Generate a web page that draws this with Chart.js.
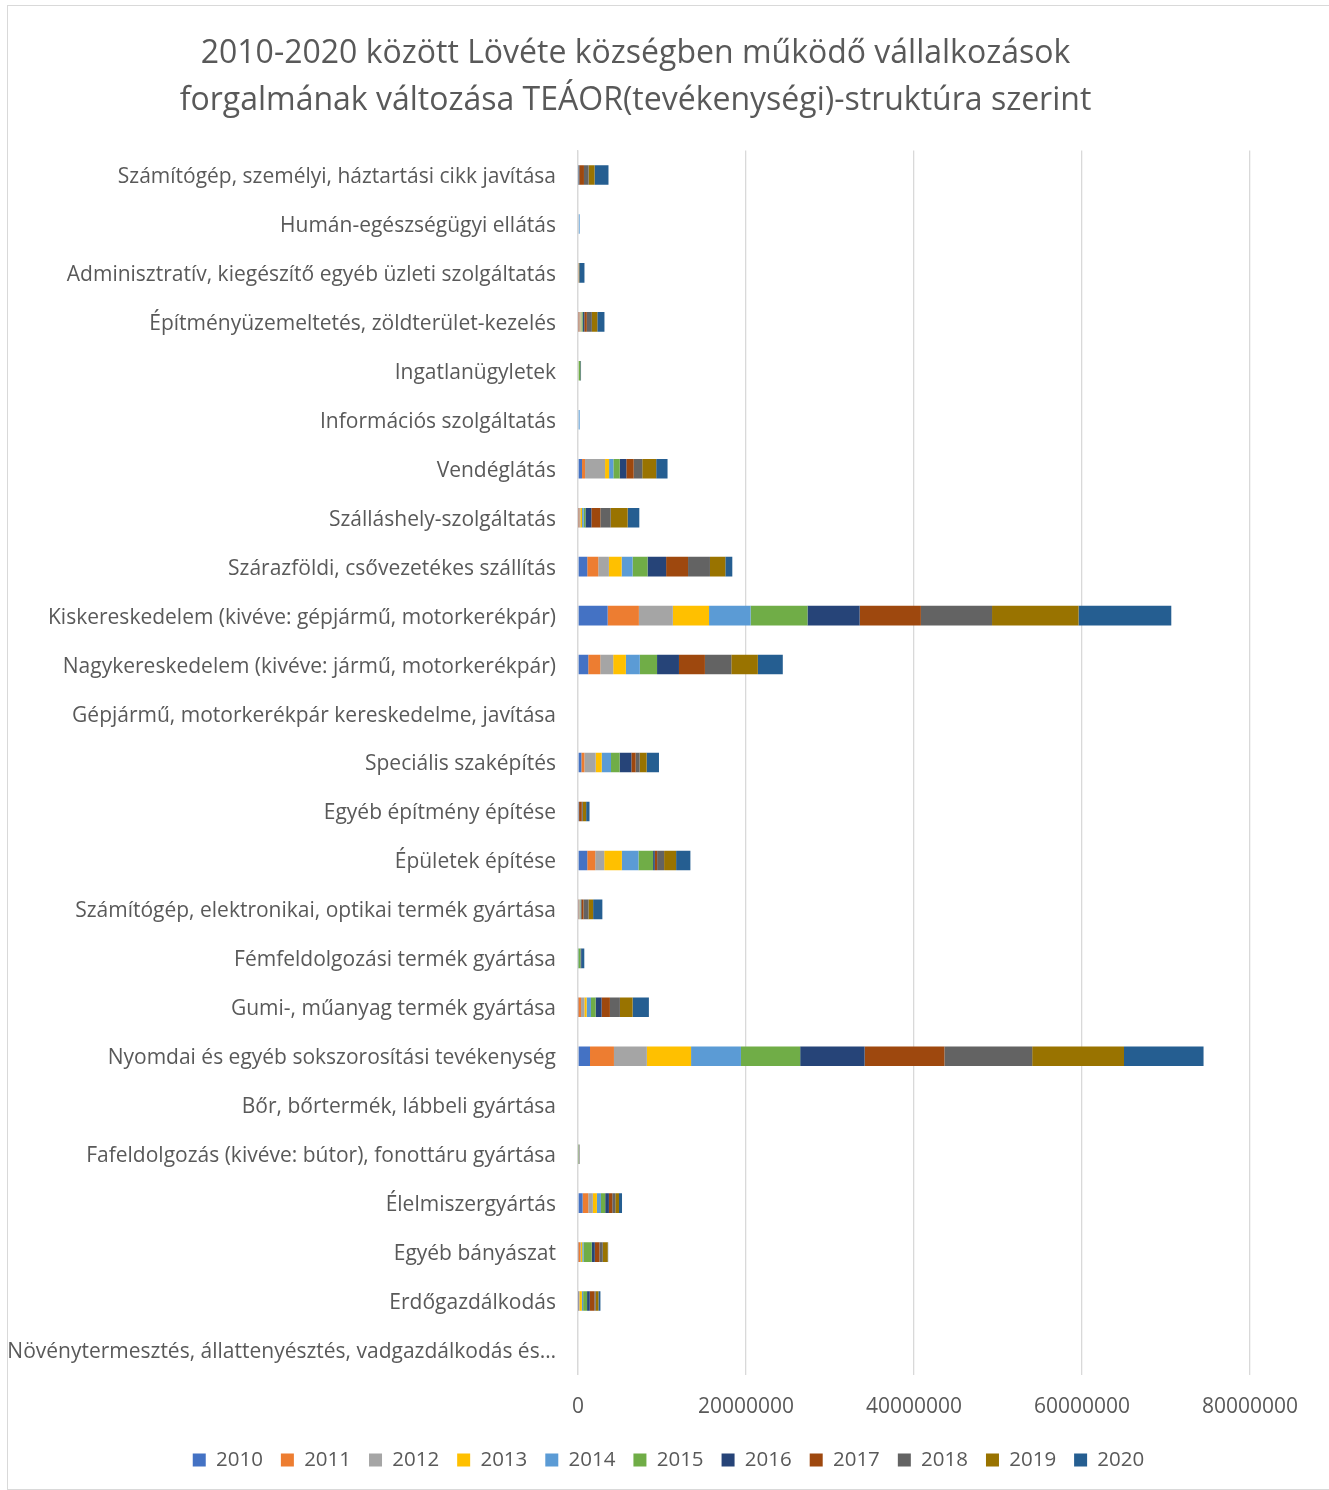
<!DOCTYPE html>
<html>
<head>
<meta charset="utf-8">
<script src="https://cdn.jsdelivr.net/npm/chart.js@4.4.1/dist/chart.umd.min.js"></script>
<style>
  body { margin: 0; background: #fff; }
  #wrap { position: absolute; left: 7px; top: 5px; width: 1321px; height: 1483px; border: 1px solid #d9d9d9; }
</style>
</head>
<body>
<div id="wrap"><canvas id="chart" width="1321" height="1483"></canvas></div>
<script>
// Kategóriák (fentről lefelé)
var categories = [
  'Számítógép, személyi, háztartási cikk javítása',
  'Humán-egészségügyi ellátás',
  'Adminisztratív, kiegészítő egyéb üzleti szolgáltatás',
  'Építményüzemeltetés, zöldterület-kezelés',
  'Ingatlanügyletek',
  'Információs szolgáltatás',
  'Vendéglátás',
  'Szálláshely-szolgáltatás',
  'Szárazföldi, csővezetékes szállítás',
  'Kiskereskedelem (kivéve: gépjármű, motorkerékpár)',
  'Nagykereskedelem (kivéve: jármű, motorkerékpár)',
  'Gépjármű, motorkerékpár kereskedelme, javítása',
  'Speciális szaképítés',
  'Egyéb építmény építése',
  'Épületek építése',
  'Számítógép, elektronikai, optikai termék gyártása',
  'Fémfeldolgozási termék gyártása',
  'Gumi-, műanyag termék gyártása',
  'Nyomdai és egyéb sokszorosítási tevékenység',
  'Bőr, bőrtermék, lábbeli gyártása',
  'Fafeldolgozás (kivéve: bútor), fonottáru gyártása',
  'Élelmiszergyártás',
  'Egyéb bányászat',
  'Erdőgazdálkodás',
  'Növénytermesztés, állattenyésztés, vadgazdálkodás és…'
];

var years = ['2010', '2011', '2012', '2013', '2014', '2015', '2016', '2017', '2018', '2019', '2020'];

// Forgalom évenként (becsült értékek a képről)
var y2010 = [20000, 0, 0, 50000, 0, 0, 480000, 50000, 1100000, 3530000, 1220000, 0, 400000, 0, 1100000, 50000, 0, 50000, 1430000, 0, 0, 550000, 50000, 30000, 0];
var y2011 = [20000, 0, 0, 100000, 0, 0, 360000, 100000, 1310000, 3720000, 1430000, 0, 360000, 0, 950000, 50000, 0, 310000, 2850000, 0, 0, 670000, 200000, 30000, 0];
var y2012 = [20000, 100000, 0, 150000, 80000, 80000, 2380000, 130000, 1270000, 4040000, 1540000, 0, 1350000, 80000, 1070000, 100000, 0, 400000, 3920000, 0, 50000, 550000, 100000, 100000, 0];
var y2013 = [20000, 0, 0, 100000, 0, 0, 480000, 200000, 1510000, 4310000, 1510000, 0, 710000, 0, 2100000, 50000, 0, 270000, 5260000, 0, 0, 480000, 150000, 300000, 0];
var y2014 = [20000, 100000, 0, 100000, 0, 120000, 510000, 200000, 1310000, 4950000, 1660000, 0, 1110000, 0, 1980000, 50000, 50000, 510000, 5940000, 0, 0, 480000, 150000, 150000, 0];
var y2015 = [20000, 0, 0, 100000, 200000, 0, 760000, 200000, 1780000, 6770000, 2050000, 0, 1030000, 0, 1740000, 50000, 250000, 560000, 7050000, 0, 50000, 510000, 990000, 470000, 0];
var y2016 = [30000, 0, 0, 150000, 80000, 0, 780000, 710000, 2210000, 6210000, 2610000, 0, 1390000, 50000, 200000, 50000, 150000, 710000, 7670000, 0, 0, 440000, 360000, 320000, 0];
var y2017 = [560000, 0, 100000, 300000, 0, 0, 880000, 1070000, 2610000, 7290000, 3090000, 0, 510000, 320000, 280000, 250000, 0, 990000, 9500000, 0, 0, 400000, 550000, 550000, 0];
var y2018 = [550000, 0, 0, 600000, 0, 0, 1020000, 1230000, 2610000, 8470000, 3140000, 0, 480000, 120000, 830000, 600000, 0, 1190000, 10450000, 0, 80000, 360000, 400000, 160000, 0];
var y2019 = [710000, 0, 50000, 650000, 0, 0, 1660000, 2020000, 1830000, 10300000, 3160000, 0, 830000, 400000, 1430000, 550000, 0, 1510000, 10930000, 0, 0, 440000, 590000, 320000, 0];
var y2020 = [1660000, 0, 620000, 850000, 0, 0, 1350000, 1390000, 830000, 11040000, 2970000, 0, 1470000, 400000, 1700000, 1100000, 300000, 1940000, 9470000, 0, 0, 360000, 50000, 240000, 0];

var series = [y2010, y2011, y2012, y2013, y2014, y2015, y2016, y2017, y2018, y2019, y2020];
var colors = ['#4472C4', '#ED7D31', '#A5A5A5', '#FFC000', '#5B9BD5', '#70AD47', '#264478', '#9E480E', '#636363', '#997300', '#255E91'];

var xMax = 80000000;
var xStep = 20000000;

var datasets = years.map(function(y, i) {
  return {
    label: y,
    data: series[i],
    backgroundColor: colors[i],
    borderWidth: 0,
    categoryPercentage: 0.4,
    barPercentage: 1
  };
});

var textColor = '#595959';
var gridColor = '#d9d9d9';

// cím eltolása balra, mint az eredetin
var shiftTitle = {
  id: 'shiftTitle',
  afterLayout: function(chart) {
    var t = chart.titleBlock;
    if (t) { t.left -= 33; t.right -= 33; }
  }
};

new Chart(document.getElementById('chart'), {
  type: 'bar',
  data: { labels: categories, datasets: datasets },
  plugins: [shiftTitle],
  options: {
    indexAxis: 'y',
    responsive: false,
    animation: false,
    layout: { padding: { left: 0, right: 0, top: 0, bottom: 8.75 } },
    scales: {
      x: {
        stacked: true,
        min: 0,
        max: xMax,
        ticks: {
          stepSize: xStep,
          color: textColor,
          font: { family: 'Open Sans', size: 21 },
          padding: 20,
          callback: function(v) { return String(v); }
        },
        grid: { color: gridColor, lineWidth: 1.3, drawTicks: false },
        border: { display: false },
        afterFit: function(s) { s.height = 57.25; }
      },
      y: {
        stacked: true,
        ticks: {
          autoSkip: false,
          color: textColor,
          font: { family: 'Open Sans', size: 21 },
          padding: 22,
          labelOffset: 2
        },
        grid: { display: false, drawTicks: false },
        border: { display: true, color: gridColor, width: 1.3 },
        afterFit: function(s) { s.width = 570; }
      },
      yRight: {
        type: 'category',
        position: 'right',
        display: true,
        ticks: { display: false },
        grid: { display: false, drawTicks: false },
        border: { display: false },
        afterFit: function(s) { s.width = 79; }
      }
    },
    plugins: {
      title: {
        display: true,
        text: ['2010-2020 között Lövéte községben működő vállalkozások', 'forgalmának változása TEÁOR(tevékenységi)-struktúra szerint'],
        color: textColor,
        font: { family: 'Open Sans', size: 32, weight: 'normal', lineHeight: '47px' },
        padding: { top: 24.5, bottom: 26 }
      },
      legend: {
        position: 'bottom',
        labels: {
          color: textColor,
          font: { family: 'Open Sans', size: 20.5 },
          boxWidth: 13,
          boxHeight: 13,
          padding: 18
        }
      },
      tooltip: { enabled: false }
    }
  }
});
</script>
</body>
</html>
